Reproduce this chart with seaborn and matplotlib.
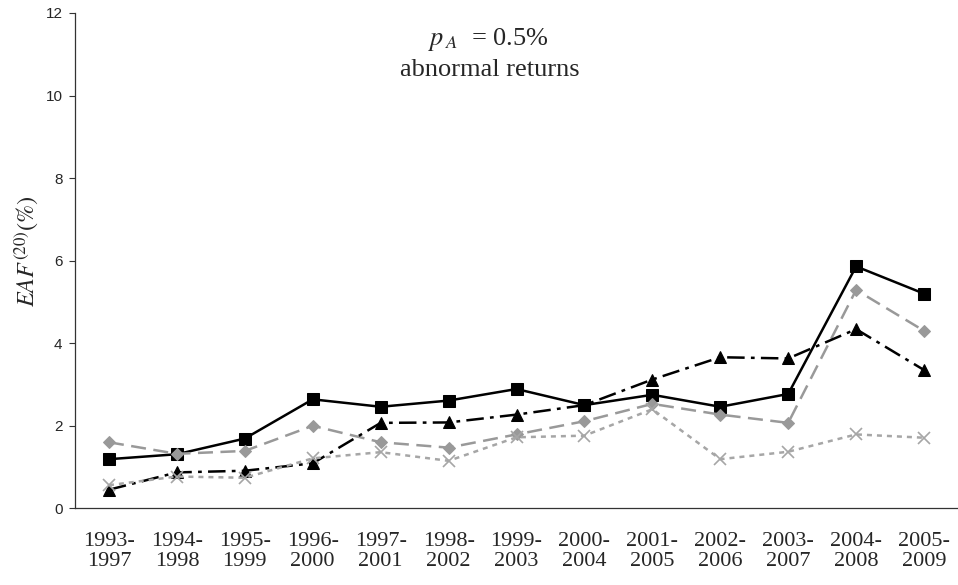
import matplotlib
matplotlib.use("Agg")
import matplotlib.pyplot as plt
import seaborn as sns
import pandas as pd
import numpy as np

periods = ["1993-\n1997", "1994-\n1998", "1995-\n1999", "1996-\n2000", "1997-\n2001",
           "1998-\n2002", "1999-\n2003", "2000-\n2004", "2001-\n2005", "2002-\n2006",
           "2003-\n2007", "2004-\n2008", "2005-\n2009"]

series_square = [1.19, 1.31, 1.69, 2.64, 2.46, 2.61, 2.89, 2.50, 2.75, 2.46, 2.77, 5.86, 5.20]
series_diamond = [1.60, 1.32, 1.39, 2.00, 1.60, 1.47, 1.79, 2.11, 2.53, 2.27, 2.07, 5.29, 4.30]
series_triangle = [0.45, 0.87, 0.91, 1.09, 2.07, 2.08, 2.27, 2.50, 3.12, 3.66, 3.63, 4.34, 3.35]
series_cross = [0.56, 0.77, 0.74, 1.21, 1.36, 1.15, 1.72, 1.76, 2.40, 1.19, 1.37, 1.79, 1.71]

sns.set_theme(style="white")
plt.rcParams["mathtext.fontset"] = "stix"

fig = plt.figure(figsize=(9.58, 5.85), dpi=100)
ax = fig.add_axes([0.0783, 0.1311, 0.9217, 0.8467])

pos = np.arange(len(periods))
styles = [
    (series_square, dict(color="black", linestyle="-", marker="s", markersize=8,
                         markerfacecolor="black", markeredgecolor="black", linewidth=1.8)),
    (series_diamond, dict(color="#999999", linestyle=(0, (6, 3)), marker="D", markersize=6,
                          markerfacecolor="#999999", markeredgecolor="#999999", linewidth=1.8)),
    (series_triangle, dict(color="black", linestyle=(0, (7, 2.5, 1.5, 2.5)), marker="^", markersize=8.5,
                           markerfacecolor="black", markeredgecolor="black", linewidth=1.8)),
    (series_cross, dict(color="#a6a6a6", linestyle=(0, (2, 2)), marker="x", markersize=8,
                        markeredgecolor="#a6a6a6", markeredgewidth=1.2, linewidth=1.8)),
]
for vals, kw in styles:
    df = pd.DataFrame({"x": pos, "y": vals})
    sns.lineplot(data=df, x="x", y="y", ax=ax, **kw)

ax.set_xlim(-0.5, 12.45)
ax.set_ylim(0, 12)
ax.set_yticks(range(0, 13, 2))
ax.set_yticklabels([str(v) for v in range(0, 13, 2)], family="Liberation Sans", fontsize=11)
ax.set_xticks(pos)
ax.set_xticklabels(periods, family="Liberation Serif", fontsize=16, linespacing=1.05)
ax.set_xticks(np.arange(-0.5, 12.6, 1), minor=True)
ax.tick_params(axis="x", which="major", length=0, pad=17)
ax.tick_params(axis="x", which="minor", length=5, width=0.8, color="#333333", direction="out")
ax.tick_params(axis="y", which="major", length=4, width=0.8, color="#333333", direction="out", left=True, pad=5)

for side in ["top", "right"]:
    ax.spines[side].set_visible(False)
for side in ["left", "bottom"]:
    ax.spines[side].set_color("#333333")
    ax.spines[side].set_linewidth(0.9)

ax.set_xlabel("")
ax.set_ylabel(r"$\mathit{EAF}^{(20)}\mathrm{(\%)}$", fontsize=17.5, labelpad=0)
ax.yaxis.set_label_coords(-0.038, 0.52)

ax.text(0.468, 0.947, r"$p_{\,A}$  = 0.5%", transform=ax.transAxes,
        ha="center", va="center", fontsize=19, family="Liberation Serif")
ax.text(0.470, 0.884, "abnormal returns", transform=ax.transAxes,
        ha="center", va="center", fontsize=19, family="Liberation Serif")

fig.savefig("out.png", dpi=100)
